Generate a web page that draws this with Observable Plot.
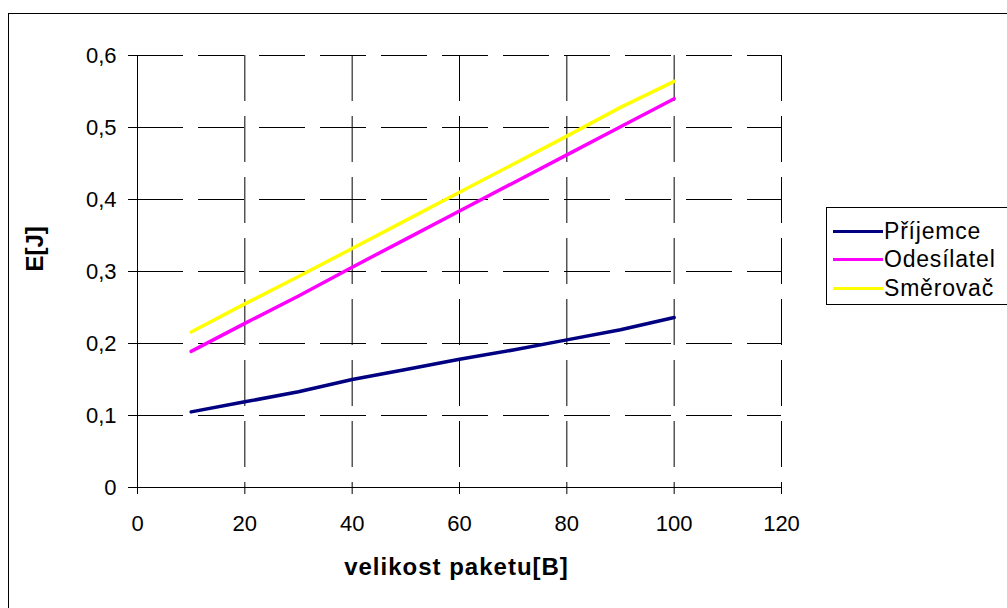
<!DOCTYPE html>
<html>
<head>
<meta charset="utf-8">
<script src="https://cdn.jsdelivr.net/npm/d3@7"></script>
<script src="https://cdn.jsdelivr.net/npm/@observablehq/plot@0.6"></script>
<style>
  html, body { margin: 0; padding: 0; background: #fff; }
  #wrap { position: relative; width: 1007px; height: 608px; overflow: hidden; font-family: "Liberation Sans", Arial, sans-serif; }
  #frame { position: absolute; left: 8px; top: 13px; width: 1020px; height: 620px; border: 1px solid #000; box-sizing: border-box; pointer-events: none; }
  #chart { position: absolute; left: 0; top: 0; }
  #legend { position: absolute; left: 826px; top: 207px; width: 200px; height: 98px; border: 1px solid #000; box-sizing: border-box; background: #fff; }
  .item { position: absolute; left: 6px; height: 28px; display: flex; align-items: center; font-size: 23px; letter-spacing: 0.8px; color: #000; white-space: nowrap; }
  .item .sw { width: 50px; height: 3px; margin-right: 1px; }
</style>
</head>
<body>
<div id="wrap">
  <div id="chart"></div>
  <div id="frame"></div>
  <div id="legend"></div>
</div>
<script>
const sizes = [10, 20, 30, 40, 50, 60, 70, 80, 90, 100];
const seriesNames = ["Příjemce", "Odesílatel", "Směrovač"];
const prijemce   = [0.105, 0.119, 0.133, 0.150, 0.164, 0.178, 0.191, 0.205, 0.219, 0.236];
const odesilatel = [0.189, 0.228, 0.266, 0.306, 0.345, 0.384, 0.423, 0.462, 0.501, 0.540];
const smerovac   = [0.216, 0.255, 0.293, 0.332, 0.371, 0.410, 0.449, 0.488, 0.528, 0.564];
const seriesColors = ["#000080", "#FF00FF", "#FFFF00"];
const xTicks = [0, 20, 40, 60, 80, 100, 120];
const yTicks = [0, 0.1, 0.2, 0.3, 0.4, 0.5, 0.6];
const xTitle = "velikost paketu[B]";
const yTitle = "E[J]";

const allSeries = [prijemce, odesilatel, smerovac];
const data = [];
allSeries.forEach((vals, si) => {
  vals.forEach((v, i) => data.push({ series: seriesNames[si], x: sizes[i], y: v }));
});

const fmt = d => String(+d.toFixed(1)).replace(".", ",");

const chart = Plot.plot({
  width: 1007,
  height: 608,
  marginLeft: 137,
  marginRight: 226,
  marginTop: 55,
  marginBottom: 121,
  style: { fontFamily: "Liberation Sans, Arial, sans-serif", fontSize: "22px", background: "transparent", color: "#000" },
  x: { domain: [0, 120] },
  y: { domain: [0, 0.6] },
  color: { domain: seriesNames, range: seriesColors },
  marks: [
    Plot.ruleY(yTicks.filter(d => d > 0), { stroke: "#000", strokeWidth: 1, strokeDasharray: "46,15" }),
    Plot.ruleX(xTicks.filter(d => d > 0), { stroke: "#000", strokeWidth: 1, strokeDasharray: "46,15" }),
    Plot.axisY({ ticks: yTicks, tickFormat: fmt, tickSize: 9, tickPadding: 12, label: null, stroke: "#000", strokeOpacity: 1 }),
    Plot.axisX({ ticks: xTicks, tickFormat: d => String(d), tickSize: 7, tickPadding: 21, label: null, stroke: "#000", strokeOpacity: 1 }),
    Plot.ruleX([0], { stroke: "#000", strokeWidth: 1 }),
    Plot.ruleY([0], { stroke: "#000", strokeWidth: 1 }),
    Plot.line(data, { x: "x", y: "y", z: "series", stroke: "series", strokeWidth: 3.5 }),
    Plot.text([xTitle], { frameAnchor: "bottom", dy: 87, dx: -3, text: d => d, fontWeight: "bold", fontSize: 24, fill: "#000", style: "letter-spacing:1px" }),
    Plot.text([yTitle], { frameAnchor: "left", dx: -102, rotate: -90, text: d => d, fontWeight: "bold", fontSize: 24, fill: "#000" })
  ]
});
document.getElementById("chart").appendChild(chart);
chart.querySelectorAll("text").forEach(t => {
  if (t.textContent === xTitle) t.setAttribute("letter-spacing", "1");
});

const legend = document.getElementById("legend");
seriesNames.forEach((name, i) => {
  const it = document.createElement("div");
  it.className = "item";
  it.style.top = (9 + i * 28.5) + "px";
  const sw = document.createElement("span");
  sw.className = "sw";
  sw.style.background = seriesColors[i];
  const tx = document.createElement("span");
  tx.textContent = name;
  it.appendChild(sw);
  it.appendChild(tx);
  legend.appendChild(it);
});
</script>
</body>
</html>
